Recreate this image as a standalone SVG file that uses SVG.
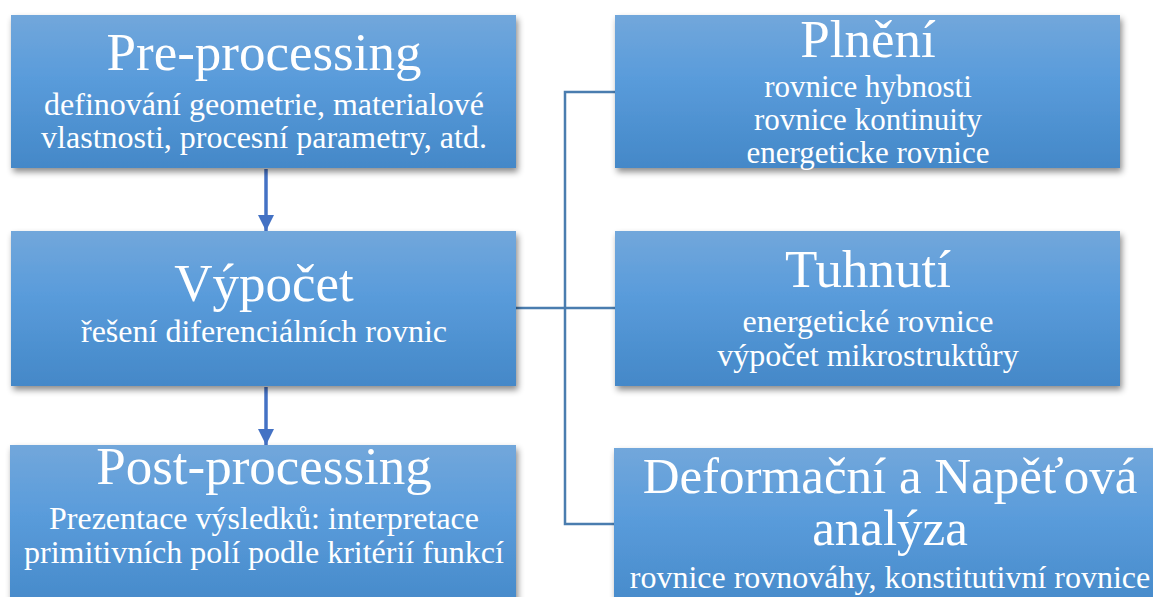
<svg xmlns="http://www.w3.org/2000/svg" width="1153" height="597" viewBox="0 0 1153 597">
<style>
.box{fill:url(#g);filter:url(#sh)}
.t{font-family:"Liberation Serif","Times New Roman",serif;fill:#fff;text-anchor:middle}
.h{font-size:53px}
.h2{font-size:51px}
.s{font-size:32px}
.s2{font-size:31px}
.br{fill:none;stroke:#4A7DAF;stroke-width:2.5}
.ar{fill:none;stroke:#4472C4;stroke-width:3.5}
</style>
<defs>
<linearGradient id="g" x1="0" y1="0" x2="0" y2="1">
<stop offset="0" stop-color="#72A7DB"/>
<stop offset="0.4" stop-color="#5A9CDB"/>
<stop offset="1" stop-color="#4488C8"/>
</linearGradient>
<filter id="sh" x="-5%" y="-10%" width="115%" height="130%">
<feDropShadow dx="2" dy="4" stdDeviation="3" flood-color="#000" flood-opacity="0.45"/>
</filter>
<marker id="ah" markerUnits="userSpaceOnUse" markerWidth="18" markerHeight="16" refX="16" refY="8" orient="auto">
<path d="M0,0 L16,8 L0,16 Z" fill="#4472C4"/>
</marker>
</defs>
<g id="connectors">
<line class="ar" x1="266" y1="169" x2="266" y2="231" marker-end="url(#ah)"/>
<line class="ar" x1="266" y1="387" x2="266" y2="445" marker-end="url(#ah)"/>
<polyline class="br" points="615,92 565,92 565,524 615,524"/>
<line class="br" x1="516" y1="308" x2="615" y2="308"/>
</g>
<g id="pre">
<rect class="box" x="11" y="15" width="505" height="153"/>
<text class="t h" x="264" y="70">Pre-processing</text>
<text class="t s" x="264" y="115">definování geometrie, materialové</text>
<text class="t s" x="264" y="148">vlastnosti, procesní parametry, atd.</text>
</g>
<g id="vypocet">
<rect class="box" x="11" y="231" width="505" height="155"/>
<text class="t h" x="264" y="301">Výpočet</text>
<text class="t s" x="264" y="342">řešení diferenciálních rovnic</text>
</g>
<g id="post">
<rect class="box" x="10" y="445" width="506" height="170"/>
<text class="t h" x="264" y="484">Post-processing</text>
<text class="t s" x="264" y="529">Prezentace výsledků: interpretace</text>
<text class="t s" x="264" y="563">primitivních polí podle kritérií funkcí</text>
</g>
<g id="plneni">
<rect class="box" x="615" y="15" width="505" height="153"/>
<text class="t h" x="868" y="57">Plnění</text>
<text class="t s2" x="868" y="97">rovnice hybnosti</text>
<text class="t s2" x="868" y="130">rovnice kontinuity</text>
<text class="t s2" x="868" y="163">energeticke rovnice</text>
</g>
<g id="tuhnuti">
<rect class="box" x="615" y="231" width="505" height="155"/>
<text class="t h" x="868" y="287">Tuhnutí</text>
<text class="t s" x="868" y="332">energetické rovnice</text>
<text class="t s" x="868" y="366">výpočet mikrostruktůry</text>
</g>
<g id="deformacni">
<rect class="box" x="614" y="448" width="552" height="170"/>
<text class="t h2" x="890" y="493">Deformační a Napěťová</text>
<text class="t h2" x="890" y="545">analýza</text>
<text class="t s" x="890" y="588">rovnice rovnováhy, konstitutivní rovnice</text>
</g>
</svg>
